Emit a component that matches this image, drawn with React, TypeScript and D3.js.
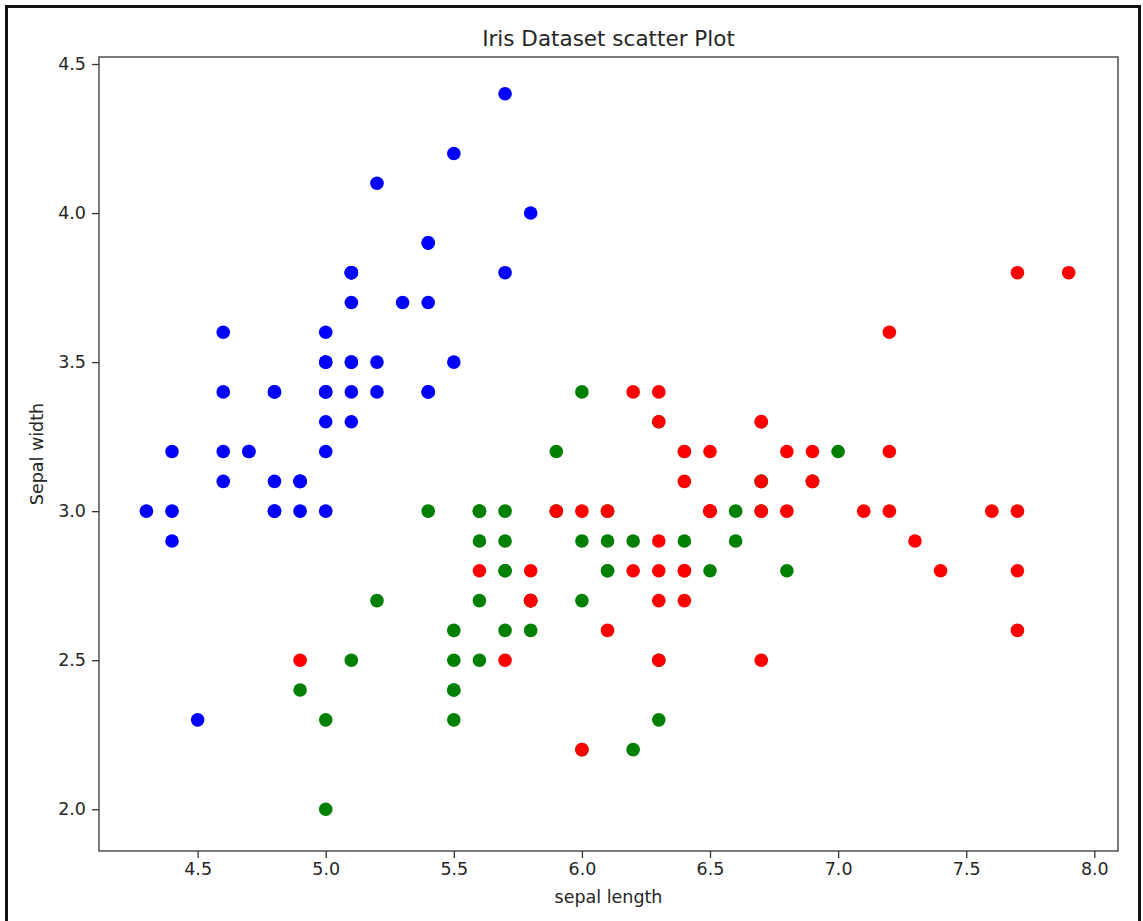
import React, { useEffect, useRef } from "react";
import * as d3 from "d3";

// iris sepal length / sepal width, by species
const setosaLength = [5.1, 4.9, 4.7, 4.6, 5.0, 5.4, 4.6, 5.0, 4.4, 4.9, 5.4, 4.8, 4.8, 4.3, 5.8, 5.7, 5.4, 5.1, 5.7, 5.1, 5.4, 5.1, 4.6, 5.1, 4.8, 5.0, 5.0, 5.2, 5.2, 4.7, 4.8, 5.4, 5.2, 5.5, 4.9, 5.0, 5.5, 4.9, 4.4, 5.1, 5.0, 4.5, 4.4, 5.0, 5.1, 4.8, 5.1, 4.6, 5.3, 5.0];
const setosaWidth = [3.5, 3.0, 3.2, 3.1, 3.6, 3.9, 3.4, 3.4, 2.9, 3.1, 3.7, 3.4, 3.0, 3.0, 4.0, 4.4, 3.9, 3.5, 3.8, 3.8, 3.4, 3.7, 3.6, 3.3, 3.4, 3.0, 3.4, 3.5, 3.4, 3.2, 3.1, 3.4, 4.1, 4.2, 3.1, 3.2, 3.5, 3.1, 3.0, 3.4, 3.5, 2.3, 3.2, 3.5, 3.8, 3.0, 3.8, 3.2, 3.7, 3.3];

const versicolorLength = [7.0, 6.4, 6.9, 5.5, 6.5, 5.7, 6.3, 4.9, 6.6, 5.2, 5.0, 5.9, 6.0, 6.1, 5.6, 6.7, 5.6, 5.8, 6.2, 5.6, 5.9, 6.1, 6.3, 6.1, 6.4, 6.6, 6.8, 6.7, 6.0, 5.7, 5.5, 5.5, 5.8, 6.0, 5.4, 6.0, 6.7, 6.3, 5.6, 5.5, 5.5, 6.1, 5.8, 5.0, 5.6, 5.7, 5.7, 6.2, 5.1, 5.7];
const versicolorWidth = [3.2, 3.2, 3.1, 2.3, 2.8, 2.8, 3.3, 2.4, 2.9, 2.7, 2.0, 3.0, 2.2, 2.9, 2.9, 3.1, 3.0, 2.7, 2.2, 2.5, 3.2, 2.8, 2.5, 2.8, 2.9, 3.0, 2.8, 3.0, 2.9, 2.6, 2.4, 2.4, 2.7, 2.7, 3.0, 3.4, 3.1, 2.3, 3.0, 2.5, 2.6, 3.0, 2.6, 2.3, 2.7, 3.0, 2.9, 2.9, 2.5, 2.8];

const virginicaLength = [6.3, 5.8, 7.1, 6.3, 6.5, 7.6, 4.9, 7.3, 6.7, 7.2, 6.5, 6.4, 6.8, 5.7, 5.8, 6.4, 6.5, 7.7, 7.7, 6.0, 6.9, 5.6, 7.7, 6.3, 6.7, 7.2, 6.2, 6.1, 6.4, 7.2, 7.4, 7.9, 6.4, 6.3, 6.1, 7.7, 6.3, 6.4, 6.0, 6.9, 6.7, 6.9, 5.8, 6.8, 6.7, 6.7, 6.3, 6.5, 6.2, 5.9];
const virginicaWidth = [3.3, 2.7, 3.0, 2.9, 3.0, 3.0, 2.5, 2.9, 2.5, 3.6, 3.2, 2.7, 3.0, 2.5, 2.8, 3.2, 3.0, 3.8, 2.6, 2.2, 3.2, 2.8, 2.8, 2.7, 3.3, 3.2, 2.8, 3.0, 2.8, 3.0, 2.8, 3.8, 2.8, 2.8, 2.6, 3.0, 3.4, 3.1, 3.0, 3.1, 3.1, 3.1, 2.7, 3.2, 3.3, 3.0, 2.5, 3.0, 3.4, 3.0];

const xTicks = [4.5, 5.0, 5.5, 6.0, 6.5, 7.0, 7.5, 8.0];
const yTicks = [2.0, 2.5, 3.0, 3.5, 4.0, 4.5];

const WIDTH = 1143;
const HEIGHT = 921;
const plot = { left: 99, right: 1118, top: 57, bottom: 851 };
const FONT = "'DejaVu Sans', sans-serif";

const App = () => {
  const ref = useRef<SVGSVGElement>(null);

  useEffect(() => {
    const svg = d3.select(ref.current);
    svg.selectAll("*").remove();

    const x = d3.scaleLinear().domain([4.115, 8.0925]).range([plot.left, plot.right]);
    const y = d3.scaleLinear().domain([1.86, 4.5235]).range([plot.bottom, plot.top]);

    // outer frame of the screenshot
    svg
      .append("rect")
      .attr("x", 6.5)
      .attr("y", 6.5)
      .attr("width", 1133)
      .attr("height", 940)
      .attr("fill", "white")
      .attr("stroke", "#111")
      .attr("stroke-width", 3);

    const groups = [
      { xs: setosaLength, ys: setosaWidth, color: "#0000ff" },
      { xs: versicolorLength, ys: versicolorWidth, color: "#008000" },
      { xs: virginicaLength, ys: virginicaWidth, color: "#ff0000" },
    ];

    groups.forEach((g) => {
      svg
        .append("g")
        .selectAll("circle")
        .data(g.xs.map((v, i) => [v, g.ys[i]]))
        .join("circle")
        .attr("cx", (d) => x(d[0]))
        .attr("cy", (d) => y(d[1]))
        .attr("r", 6.8)
        .attr("fill", g.color);
    });

    const xAxis = svg
      .append("g")
      .attr("transform", `translate(0,${plot.bottom})`)
      .call(d3.axisBottom(x).tickValues(xTicks).tickFormat(d3.format(".1f")).tickSize(7).tickSizeOuter(0).tickPadding(5));
    const yAxis = svg
      .append("g")
      .attr("transform", `translate(${plot.left},0)`)
      .call(d3.axisLeft(y).tickValues(yTicks).tickFormat(d3.format(".1f")).tickSize(7).tickSizeOuter(0).tickPadding(6));

    [xAxis, yAxis].forEach((a) => {
      a.select(".domain").remove();
      a.selectAll(".tick line").attr("stroke", "#333").attr("stroke-width", 1.3);
      a.selectAll(".tick text")
        .attr("fill", "#262626")
        .style("font-family", FONT)
        .style("font-size", "17.5px");
    });

    // spines
    svg
      .append("rect")
      .attr("x", plot.left)
      .attr("y", plot.top)
      .attr("width", plot.right - plot.left)
      .attr("height", plot.bottom - plot.top)
      .attr("fill", "none")
      .attr("stroke", "#333")
      .attr("stroke-width", 1.3);

    svg
      .append("text")
      .attr("x", (plot.left + plot.right) / 2)
      .attr("y", 46)
      .attr("text-anchor", "middle")
      .attr("fill", "#262626")
      .style("font-family", FONT)
      .style("font-size", "21.5px")
      .text("Iris Dataset scatter Plot");

    svg
      .append("text")
      .attr("x", (plot.left + plot.right) / 2)
      .attr("y", 903)
      .attr("text-anchor", "middle")
      .attr("fill", "#262626")
      .style("font-family", FONT)
      .style("font-size", "17.5px")
      .text("sepal length");

    svg
      .append("text")
      .attr("transform", `translate(43,${(plot.top + plot.bottom) / 2}) rotate(-90)`)
      .attr("text-anchor", "middle")
      .attr("fill", "#262626")
      .style("font-family", FONT)
      .style("font-size", "17.5px")
      .text("Sepal width");
  }, []);

  return (
    <svg
      ref={ref}
      width={WIDTH}
      height={HEIGHT}
      style={{ position: "absolute", left: 0, top: 0, display: "block", background: "white" }}
    />
  );
};

export default App;
